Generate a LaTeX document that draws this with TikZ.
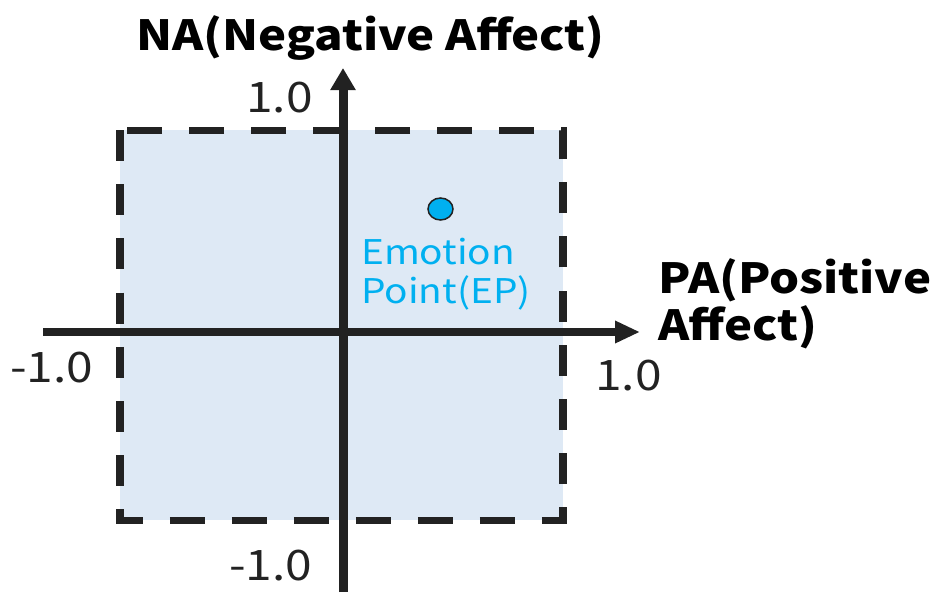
\documentclass[tikz,border=0pt]{standalone}
\usepackage{fontspec}
\setmainfont[FakeStretch=1.14]{Noto Sans CJK JP}
\usetikzlibrary{arrows.meta,shapes.geometric}
\definecolor{axiscol}{HTML}{222222}
\definecolor{boxfill}{HTML}{DEE9F5}
\definecolor{epcol}{HTML}{00B0F0}
\tikzset{
  haxis/.style={draw=axiscol,line width=8pt,-{Triangle[length=25pt,width=21pt]}},
  vaxis/.style={draw=axiscol,line width=9pt,-{Triangle[length=22pt,width=24pt]}},
  boxline/.style={draw=axiscol,line width=7pt,dash pattern=on 31pt off 23.2pt,fill=boxfill},
  ticklbl/.style={font=\fontsize{42pt}{46pt}\selectfont,text=axiscol,inner sep=0pt,anchor=base west},
  titlelbl/.style={font=\bfseries\fontsize{41.5pt}{46pt}\selectfont,text=black,inner sep=0pt,anchor=base west},
  eplbl/.style={font=\fontsize{34pt}{40pt}\selectfont,text=epcol,inner sep=0pt,anchor=base west},
}
\begin{document}
\begin{tikzpicture}[x=1pt,y=-1pt]
\useasboundingbox (0,0) rectangle (936,592);
\begin{scope}[transform canvas={xscale=1.144}]
\draw[boxline] (120/1.144,130) rectangle (563/1.144,520);
\end{scope}
\coordinate (vbot) at (343,592);
\coordinate (vtop) at (343,68);
\coordinate (hleft) at (43,332);
\coordinate (hright) at (640,332);
\draw[vaxis] (vbot) -- (vtop);
\draw[haxis] (hleft) -- (hright);
\node[ellipse,fill=epcol,draw=axiscol,line width=1.5pt,minimum width=25pt,minimum height=22pt,inner sep=0pt] (ep) at (440.5,209) {};
\node[eplbl] (eptxt1) at (361,264) {Emotion};
\node[eplbl] (eptxt2) at (361,303) {Point(EP)};
\node[titlelbl] (natitle) at (136,50) {NA(Negative Affect)};
\node[titlelbl] (patitle1) at (658,293) {PA(Positive};
\node[titlelbl] (patitle2) at (658,340) {Affect)};
\node[ticklbl] (ytop) at (246,112) {1.0};
\node[ticklbl] (xleft) at (10,382) {-1.0};
\node[ticklbl] (xright) at (595,390) {1.0};
\node[ticklbl] (ybot) at (229,580) {-1.0};
\end{tikzpicture}
\end{document}
